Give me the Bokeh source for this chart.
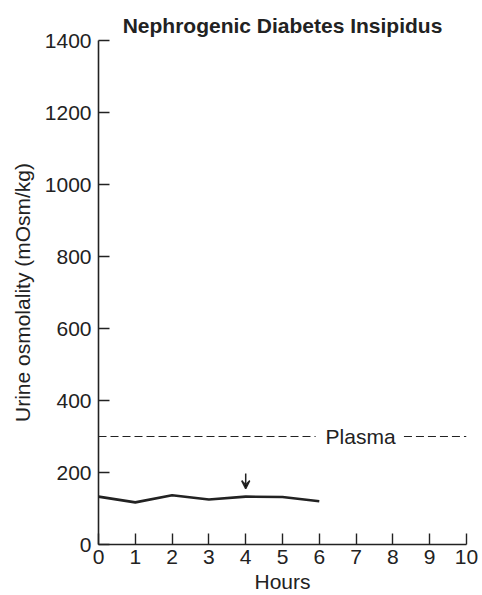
from bokeh.plotting import figure
from bokeh.models import Range1d, Label, Arrow, VeeHead, Title
from bokeh.embed import file_html
from bokeh.resources import INLINE

hours = [0, 1, 2, 3, 4, 5, 6]
urine_osm = [133, 117, 137, 125, 133, 132, 120]
plasma_left_x = [0, 5.9]
plasma_right_x = [8.3, 10]
plasma_y = [300, 300]
arrow_x = 4
arrow_top = 197
arrow_bottom = 155
x_ticks = list(range(0, 11))
y_ticks = list(range(0, 1401, 200))

FONT = "Liberation Sans"
INK = "#222222"

p = figure(width=482, height=595, output_backend="svg", toolbar_location=None,
           x_range=Range1d(0, 10), y_range=Range1d(0, 1400),
           min_border_left=98, min_border_right=16, min_border_bottom=50, min_border_top=40)

p.title = Title(text="Nephrogenic Diabetes Insipidus", align="center",
                text_font=FONT, text_font_size="21px", text_font_style="bold",
                text_color=INK, standoff=8)

p.grid.visible = False
p.outline_line_color = None
p.background_fill_color = "white"
p.border_fill_color = "white"

for ax in (p.xaxis[0], p.yaxis[0]):
    ax.major_tick_in = 11
    ax.major_tick_out = 0
    ax.minor_tick_line_color = None
    ax.axis_line_width = 1.6
    ax.major_tick_line_width = 1.4
    ax.axis_line_color = INK
    ax.major_tick_line_color = INK
    ax.major_label_text_font = FONT
    ax.major_label_text_font_size = "21px"
    ax.major_label_text_color = INK
    ax.axis_label_text_font = FONT
    ax.axis_label_text_font_size = "21px"
    ax.axis_label_text_font_style = "normal"
    ax.axis_label_text_color = INK

p.xaxis.ticker = x_ticks
p.yaxis.ticker = y_ticks
p.xaxis.axis_label = "Hours"
p.yaxis.axis_label = "Urine osmolality (mOsm/kg)"
p.xaxis.major_label_standoff = 5
p.xaxis.axis_label_standoff = 3
p.yaxis.major_label_standoff = 7
p.yaxis.axis_label_standoff = 8

p.line(hours, urine_osm, line_width=2.6, line_color=INK)
p.line(plasma_left_x, plasma_y, line_width=1.2, line_color=INK, line_dash="8 4")
p.line(plasma_right_x, plasma_y, line_width=1.2, line_color=INK, line_dash="8 4")

p.add_layout(Label(x=6.17, y=300, text="Plasma", text_font=FONT, text_font_size="21px",
                   text_color=INK, text_baseline="middle", text_align="left"))

p.add_layout(Arrow(end=VeeHead(size=8, line_width=1.5, line_color=INK),
                   x_start=arrow_x, y_start=arrow_top, x_end=arrow_x, y_end=arrow_bottom,
                   line_width=1.5, line_color=INK))

open("out.html", "w").write(file_html(p, INLINE))
